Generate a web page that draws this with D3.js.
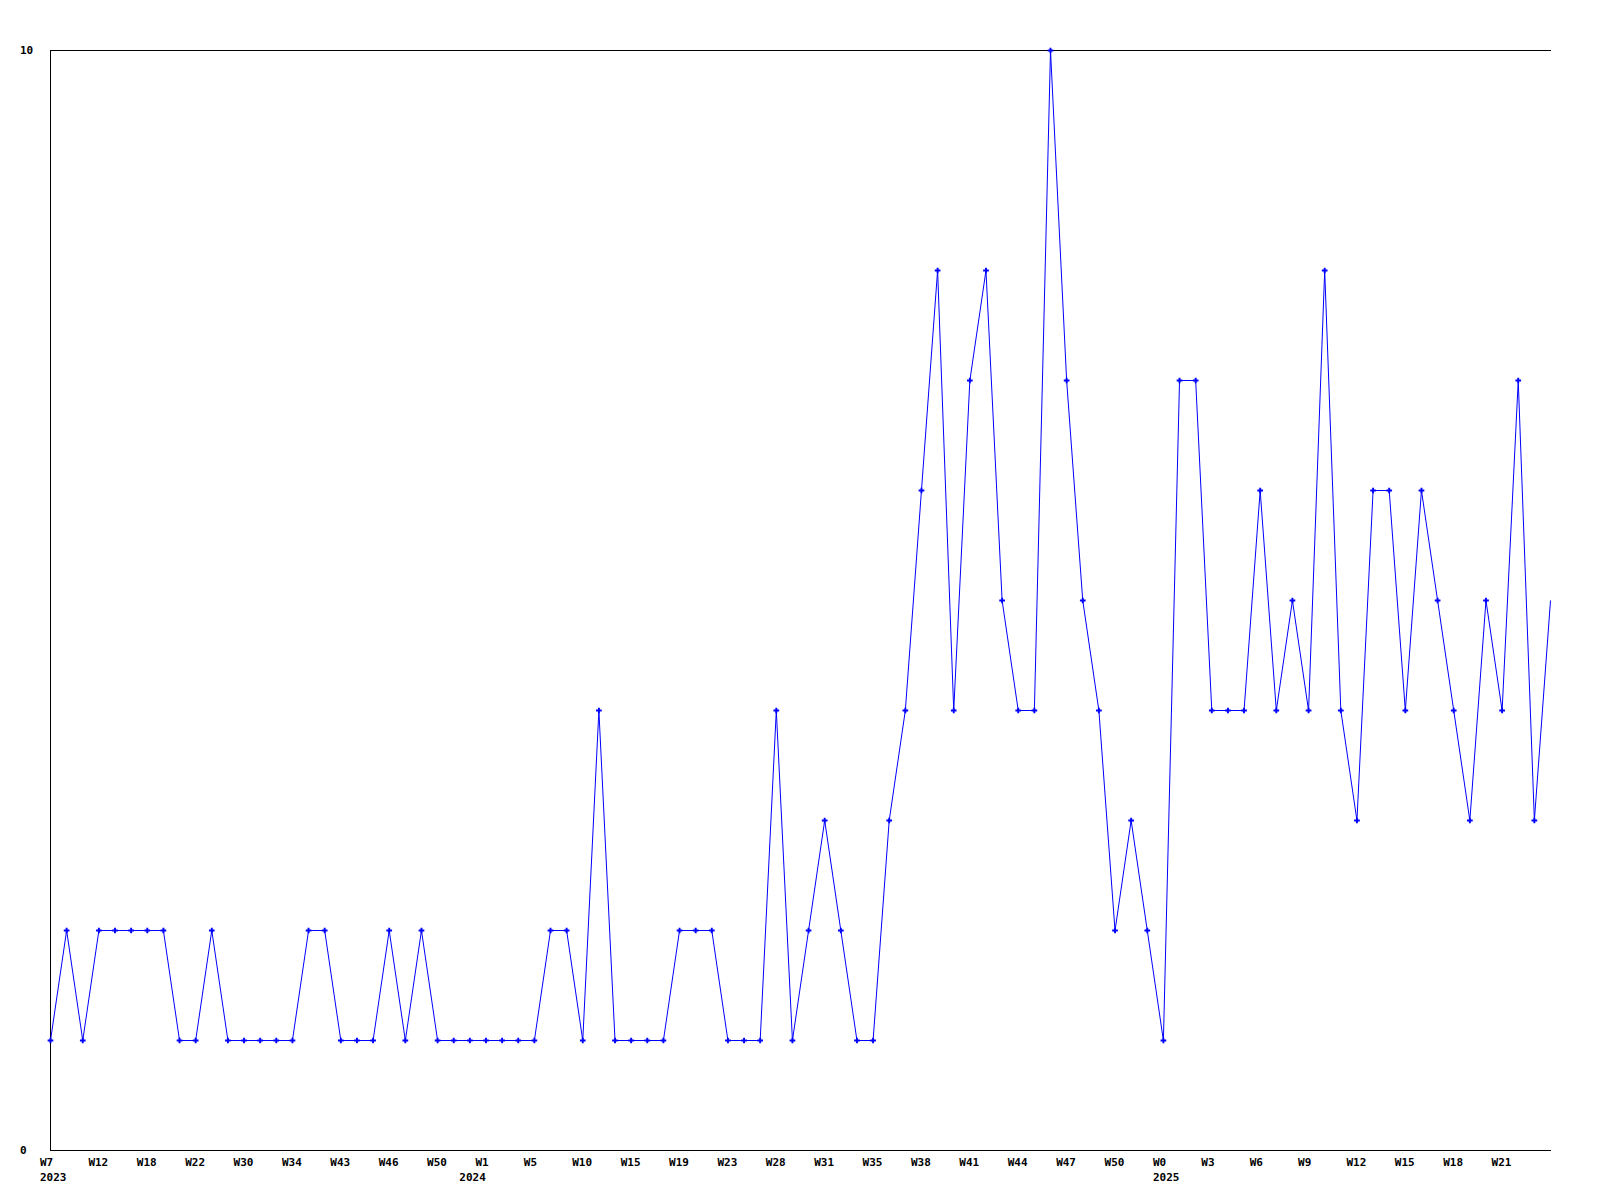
<!DOCTYPE html>
<html>
<head>
<meta charset="utf-8">
<script src="https://cdn.jsdelivr.net/npm/d3@7"></script>
<style>
  html, body { margin: 0; padding: 0; background: #fff; }
  svg text { font-family: "DejaVu Sans Mono", "Liberation Mono", monospace; font-weight: bold; font-size: 11px; fill: #000; }
</style>
</head>
<body>
<svg id="chart" width="1600" height="1200"></svg>
<script>
// ---- data ----
const values = [
  1, 2, 1, 2, 2, 2, 2, 2, 1, 1,
  2, 1, 1, 1, 1, 1, 2, 2, 1, 1,
  1, 2, 1, 2, 1, 1, 1, 1, 1, 1,
  1, 2, 2, 1, 4, 1, 1, 1, 1, 2,
  2, 2, 1, 1, 1, 4, 1, 2, 3, 2,
  1, 1, 3, 4, 6, 8, 4, 7, 8, 5,
  4, 4, 10, 7, 5, 4, 2, 3, 2, 1,
  7, 7, 4, 4, 4, 6, 4, 5, 4, 8,
  4, 3, 6, 6, 4, 6, 5, 4, 3, 5,
  4, 7, 3, 5
];
const tickLabels = ["W7","W12","W18","W22","W30","W34","W43","W46","W50","W1",
  "W5","W10","W15","W19","W23","W28","W31","W35","W38","W41",
  "W44","W47","W50","W0","W3","W6","W9","W12","W15","W18","W21"];
const tickEvery = 3;
const yearLabels = ["2023", "2024", "2025"];
const yearStartIndex = [0, 26, 69];
const yTickValues = [0, 10];

// ---- layout ----
const svg = d3.select("#chart");
const L = 50, R = 1550, T = 50, B = 1150;

const x = d3.scaleLinear().domain([0, values.length - 1]).range([L, R]);
const y = d3.scaleLinear().domain([0, 10]).range([B, T]);

// frame lines (top, left, bottom)
svg.append("line").attr("x1", L).attr("x2", R + 1).attr("y1", T + 0.5).attr("y2", T + 0.5)
  .attr("stroke", "#000").attr("stroke-width", 1);
svg.append("line").attr("x1", L + 0.5).attr("x2", L + 0.5).attr("y1", T).attr("y2", B + 1)
  .attr("stroke", "#000").attr("stroke-width", 1);
svg.append("line").attr("x1", L).attr("x2", R + 1).attr("y1", B + 0.5).attr("y2", B + 0.5)
  .attr("stroke", "#000").attr("stroke-width", 1);

// y labels
svg.selectAll("text.ylab").data(yTickValues).enter().append("text")
  .attr("class", "ylab")
  .attr("x", 20)
  .attr("y", d => y(d) + 4)
  .text(d => d);

// x labels
const tickIdx = tickLabels.map((_, i) => i * tickEvery);
svg.selectAll("text.xlab").data(tickLabels).enter().append("text")
  .attr("class", "xlab")
  .attr("x", (d, i) => x(tickIdx[i]) - 10)
  .attr("y", 1166)
  .text(d => d);
svg.selectAll("text.yr").data(yearLabels).enter().append("text")
  .attr("class", "yr")
  .attr("x", (d, i) => x(yearStartIndex[i]) - 10)
  .attr("y", 1181)
  .text(d => d);

// line
const line = d3.line().x((d, i) => x(i) + 0.5).y(d => y(d) + 0.5);
svg.append("path").datum(values)
  .attr("d", line)
  .attr("fill", "none")
  .attr("stroke", "#0000ff")
  .attr("stroke-width", 1);

// markers (last point drawn without marker)
const sym = d3.symbol().type(d3.symbolCross).size(18);
svg.selectAll("path.mk").data(values.slice(0, values.length - 1)).enter().append("path")
  .attr("class", "mk")
  .attr("d", sym)
  .attr("transform", (d, i) => `translate(${x(i) + 0.5},${y(d) + 0.5})`)
  .attr("fill", "#0000ff");
</script>
</body>
</html>
